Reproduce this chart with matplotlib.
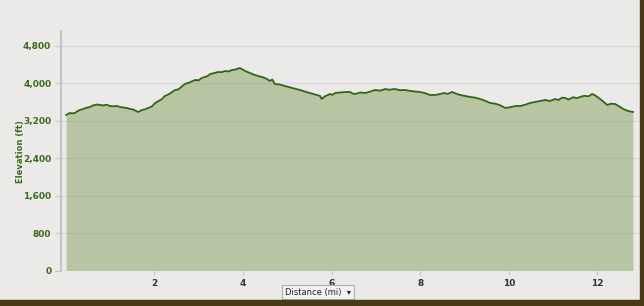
import matplotlib.pyplot as plt
from matplotlib.patches import Rectangle
from matplotlib.ticker import FuncFormatter

# elevation profile (rows of 10 to keep both lists aligned)
distance_mi = [0.01, 0.06, 0.10, 0.15, 0.21, 0.26, 0.32, 0.40, 0.47, 0.55,
               0.60, 0.66, 0.72, 0.77, 0.85, 0.92, 1.00, 1.08, 1.15, 1.23,
               1.30, 1.38, 1.45, 1.52, 1.63, 1.68, 1.72, 1.80, 1.86, 1.94,
               2.02, 2.10, 2.17, 2.24, 2.32, 2.40, 2.47, 2.55, 2.62, 2.69,
               2.78, 2.85, 2.92, 3.00, 3.07, 3.14, 3.20, 3.26, 3.33, 3.44,
               3.52, 3.60, 3.68, 3.75, 3.82, 3.93, 3.98, 4.05, 4.15, 4.27,
               4.35, 4.43, 4.52, 4.61, 4.66, 4.72, 4.82, 4.95, 5.10, 5.29,
               5.40, 5.51, 5.62, 5.74, 5.78, 5.85, 5.97, 6.02, 6.08, 6.20,
               6.31, 6.42, 6.47, 6.53, 6.65, 6.76, 6.87, 6.98, 7.10, 7.21,
               7.30, 7.43, 7.55, 7.66, 7.80, 8.00, 8.10, 8.22, 8.34, 8.45,
               8.55, 8.62, 8.72, 8.80, 8.90, 9.00, 9.13, 9.25, 9.35, 9.45,
               9.58, 9.70, 9.80, 9.92, 10.05, 10.15, 10.26, 10.37, 10.48, 10.60,
               10.70, 10.82, 10.92, 11.05, 11.12, 11.20, 11.27, 11.35, 11.45, 11.53,
               11.61, 11.70, 11.80, 11.88, 11.95, 12.06, 12.14, 12.22, 12.30, 12.40,
               12.51, 12.60, 12.69, 12.80]
elevation_ft = [3320, 3350, 3363, 3355, 3363, 3400, 3427, 3450, 3475, 3491,
                3520, 3534, 3545, 3534, 3525, 3540, 3513, 3505, 3515, 3491,
                3480, 3470, 3449, 3440, 3385, 3405, 3427, 3445, 3470, 3500,
                3577, 3620, 3660, 3727, 3760, 3810, 3854, 3870, 3930, 3982,
                4010, 4040, 4068, 4060, 4110, 4132, 4150, 4196, 4210, 4239,
                4235, 4260, 4250, 4281, 4290, 4324, 4300, 4260, 4220, 4175,
                4150, 4132, 4100, 4047, 4080, 3982, 3975, 3939, 3900, 3854,
                3820, 3790, 3760, 3727, 3662, 3720, 3769, 3750, 3790, 3800,
                3811, 3811, 3780, 3769, 3800, 3790, 3820, 3854, 3840, 3875,
                3860, 3875, 3850, 3854, 3830, 3811, 3790, 3748, 3748, 3769,
                3790, 3770, 3811, 3780, 3748, 3730, 3705, 3690, 3662, 3630,
                3577, 3560, 3530, 3470, 3490, 3513, 3513, 3540, 3577, 3600,
                3620, 3641, 3620, 3662, 3640, 3690, 3684, 3650, 3700, 3680,
                3705, 3730, 3720, 3769, 3740, 3662, 3600, 3534, 3560, 3555,
                3491, 3440, 3406, 3385]

yticks = [0, 800, 1600, 2400, 3200, 4000, 4800]
xticks = [2, 4, 6, 8, 10, 12]

bg = '#ebeae8'
fig = plt.figure(figsize=(6.44, 3.06), dpi=100, facecolor=bg)
ax = fig.add_axes([61 / 644, 1 - 270.5 / 306, 579 / 644, 239.5 / 306])
ax.set_facecolor(bg)

ax.fill_between(distance_mi, elevation_ft, 0, color='#b7c5a3', lw=0, zorder=2)
ax.plot(distance_mi, elevation_ft, color='#2f6614', lw=1.3, zorder=4)

ax.set_xlim(-0.106, 12.96)
ax.set_ylim(0, 5114)
ax.set_yticks(yticks)
ax.set_xticks(xticks)
ax.yaxis.set_major_formatter(FuncFormatter(lambda v, p: f'{int(v):,}'))
ax.grid(axis='y', color='#808080', alpha=0.15, lw=1)
ax.set_axisbelow(False)
for gl in ax.get_ygridlines():
    gl.set_zorder(3)

for s in ['top', 'right', 'bottom']:
    ax.spines[s].set_visible(False)
ax.spines['left'].set_color('#c4c4c4')
ax.spines['left'].set_linewidth(1.5)

ax.tick_params(axis='y', colors='#c4c4c4', labelcolor='#3d6b1e', length=4, labelsize=6.5, pad=3)
ax.tick_params(axis='x', colors='#c4c4c4', labelcolor='#333333', length=3, labelsize=6.5, pad=3)
for lab in ax.get_yticklabels() + ax.get_xticklabels():
    lab.set_fontweight('bold')

fig.text(20 / 644, 1 - 152 / 306, 'Elevation (ft)', rotation=90, ha='center', va='center',
         fontsize=6, fontweight='bold', color='#3d6b1e')
fig.text(318 / 644, 1 - 292 / 306, 'Distance (mi)  \u25be', ha='center', va='center',
         fontsize=6, color='#222222',
         bbox=dict(boxstyle='square,pad=0.35', fc='#f2f2f2', ec='#b0b0b0', lw=0.8))

# photo frame edges
fig.patches.append(Rectangle((640 / 644, 0), 4 / 644, 1, transform=fig.transFigure,
                             color='#4a3a14', zorder=10))
fig.patches.append(Rectangle((0, 0), 1, 6 / 306, transform=fig.transFigure,
                             color='#4a3a14', zorder=10))

fig.savefig('out.png', dpi=100, facecolor=bg)
